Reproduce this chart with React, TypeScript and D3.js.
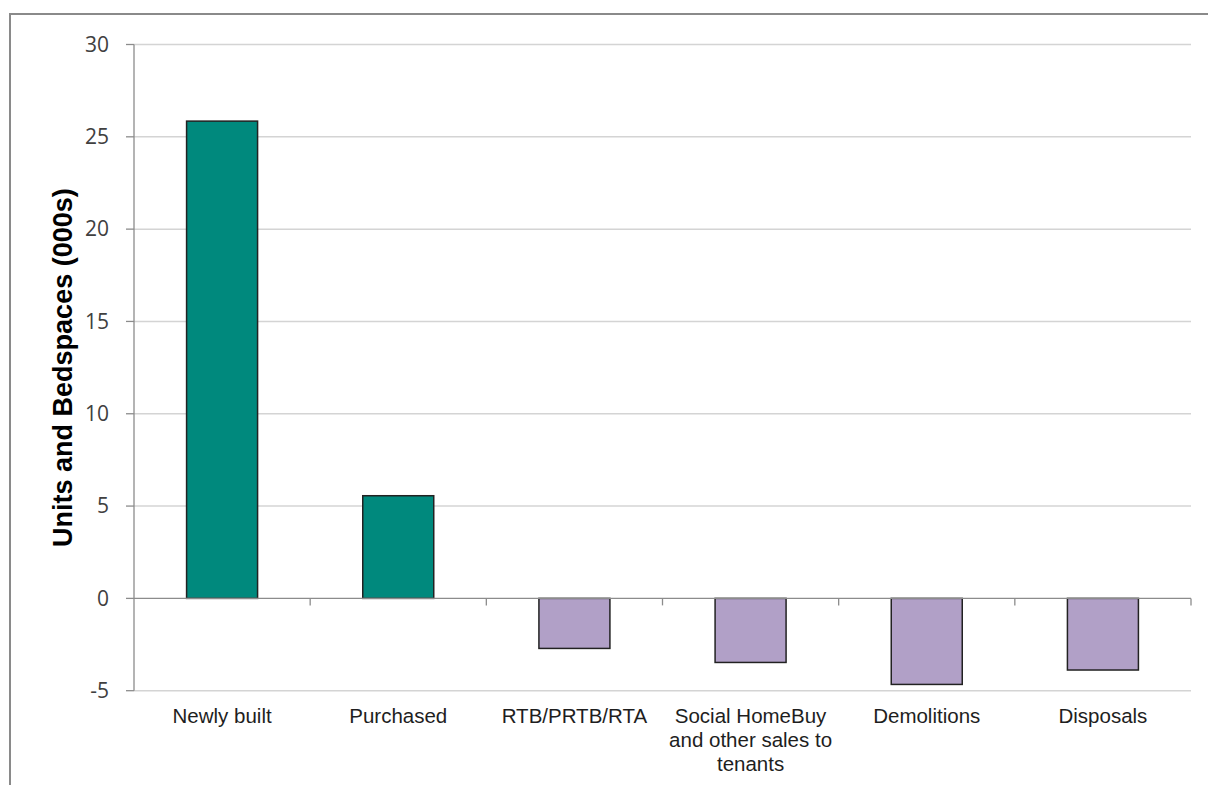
import React from "react";
import * as d3 from "d3";

// Change in social housing stock, by source (thousands)
const categories: string[][] = [
  ["Newly built"],
  ["Purchased"],
  ["RTB/PRTB/RTA"],
  ["Social HomeBuy", "and other sales to", "tenants"],
  ["Demolitions"],
  ["Disposals"],
];
const values: number[] = [25.85, 5.56, -2.71, -3.47, -4.66, -3.88];
const yTicks: number[] = [-5, 0, 5, 10, 15, 20, 25, 30];

const W = 1208;
const H = 785;
const plot = { left: 134, right: 1191, top: 44.5, bottom: 690.7 };

const GAIN = "#00897D";
const LOSS = "#B1A0C7";

export default function App() {
  const keys = categories.map((c) => c.join(" "));
  const x = d3
    .scaleBand<string>()
    .domain(keys)
    .range([plot.left, plot.right])
    .paddingInner(0.597)
    .paddingOuter(0.2985);
  const y = d3.scaleLinear().domain([-5, 30]).range([plot.bottom, plot.top]);
  const step = x.step();

  return (
    <svg
      width={W}
      height={H}
      style={{ position: "absolute", left: 0, top: 0, background: "#fff" }}
    >
      <rect x={10} y={14} width={W + 20} height={H + 20} fill="#fff" stroke="#8a8a8a" strokeWidth={2} />

      {/* gridlines */}
      {yTicks
        .filter((t) => t !== 0)
        .map((t) => (
          <line
            key={"g" + t}
            x1={plot.left}
            x2={plot.right}
            y1={y(t)}
            y2={y(t)}
            stroke="#d4d4d4"
            strokeWidth={1.5}
          />
        ))}

      {/* y axis */}
      <line x1={plot.left} x2={plot.left} y1={plot.top} y2={plot.bottom} stroke="#8c8c8c" strokeWidth={1.3} />
      {yTicks.map((t) => (
        <g key={"t" + t}>
          <line x1={plot.left - 8} x2={plot.left} y1={y(t)} y2={y(t)} stroke="#8c8c8c" strokeWidth={1.3} />
          <text
            x={109}
            y={y(t)}
            dy="0.35em"
            textAnchor="end"
            fontFamily="'Open Sans', 'Noto Sans', sans-serif"
            fontSize={21}
            fill="#404040"
          >
            {t}
          </text>
        </g>
      ))}

      {/* bars */}
      {values.map((v, i) => {
        const k = keys[i];
        const y0 = y(Math.max(0, v));
        const y1 = y(Math.min(0, v));
        return (
          <rect
            key={"b" + i}
            x={x(k)}
            y={y0}
            width={x.bandwidth()}
            height={y1 - y0}
            fill={v >= 0 ? GAIN : LOSS}
            stroke="#222"
            strokeWidth={1.5}
          />
        );
      })}

      {/* zero axis with category ticks */}
      <line x1={plot.left} x2={plot.right} y1={y(0)} y2={y(0)} stroke="#8c8c8c" strokeWidth={1.3} />
      {keys.map((k, i) => (
        <line
          key={"xt" + i}
          x1={plot.left + step * (i + 1)}
          x2={plot.left + step * (i + 1)}
          y1={y(0)}
          y2={y(0) + 7}
          stroke="#8c8c8c"
          strokeWidth={1.3}
        />
      ))}

      {/* category labels */}
      {categories.map((lines, i) => {
        const cx = (x(keys[i]) as number) + x.bandwidth() / 2;
        return (
          <text
            key={"l" + i}
            textAnchor="middle"
            fontFamily="'Liberation Sans', Arial, sans-serif"
            fontSize={20.5}
            fill="#1e1e1e"
          >
            {lines.map((ln, j) => (
              <tspan key={j} x={cx} y={722.5 + j * 24}>
                {ln}
              </tspan>
            ))}
          </text>
        );
      })}

      {/* y axis title */}
      <text
        transform={`translate(72, ${(plot.top + plot.bottom) / 2}) rotate(-90)`}
        textAnchor="middle"
        fontFamily="'Liberation Sans', Arial, sans-serif"
        fontWeight="bold"
        fontSize={27}
        fill="#000"
      >
        Units and Bedspaces (000s)
      </text>
    </svg>
  );
}
